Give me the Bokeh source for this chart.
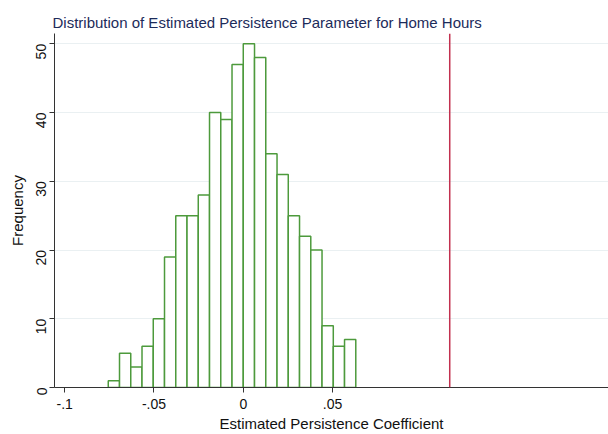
import math
from bokeh.plotting import figure
from bokeh.models import FixedTicker, Span, Range1d
from bokeh.embed import file_html
from bokeh.resources import INLINE

# Data
bin_start = -0.0756
bin_width = 0.0063
counts = [1, 5, 3, 6, 10, 19, 25, 25, 28, 40, 39, 47, 50, 48, 34, 31, 25, 22, 20, 9, 6, 7]
true_value = 0.1156
x_ticks = [-0.1, -0.05, 0.0, 0.05]
x_tick_labels = ["-.1", "-.05", "0", ".05"]
y_ticks = [0, 10, 20, 30, 40, 50]

lefts = [bin_start + i * bin_width for i in range(len(counts))]
rights = [l + bin_width for l in lefts]

FONT = "Liberation Sans"

p = figure(width=608, height=434, output_backend="svg", toolbar_location=None,
           x_range=Range1d(-0.1057, 0.2045), y_range=Range1d(0, 51.5),
           min_border_left=54, min_border_right=0, min_border_top=33, min_border_bottom=43)

p.quad(left=lefts, right=rights, bottom=0, top=counts,
       fill_color="white", line_color="#4d9a3c", line_width=1.5)

p.add_layout(Span(location=true_value, dimension="height",
                  line_color="#c2304f", line_width=1.5))

p.title.text = "Distribution of Estimated Persistence Parameter for Home Hours"
p.title.text_font = FONT
p.title.text_font_size = "15px"
p.title.text_font_style = "normal"
p.title.text_color = "#1c2b5a"
p.title.align = "left"
p.title.offset = -2
p.title.standoff = 6

p.outline_line_color = None
p.xgrid.grid_line_color = None
p.ygrid.grid_line_color = "#eaf0f2"
p.ygrid.grid_line_width = 1

p.xaxis.ticker = FixedTicker(ticks=x_ticks)
p.xaxis.major_label_overrides = {v: s for v, s in zip(x_ticks, x_tick_labels)}
p.yaxis.ticker = FixedTicker(ticks=y_ticks)
p.yaxis.major_label_orientation = math.pi / 2

for ax in (p.xaxis[0], p.yaxis[0]):
    ax.axis_line_color = "#333333"
    ax.axis_line_width = 1
    ax.major_tick_line_color = "#333333"
    ax.major_tick_out = 5
    ax.major_tick_in = 0
    ax.minor_tick_line_color = None
    ax.major_label_text_font = FONT
    ax.major_label_text_font_size = "14px"
    ax.major_label_text_color = "#111111"
    ax.axis_label_text_font = FONT
    ax.axis_label_text_font_size = "15px"
    ax.axis_label_text_font_style = "normal"
    ax.axis_label_text_color = "#111111"
    ax.axis_label_standoff = 3

p.xaxis.major_label_standoff = 6
p.yaxis.major_label_standoff = 8

p.xaxis.axis_label = "Estimated Persistence Coefficient"
p.yaxis.axis_label = "Frequency"

open("out.html", "w").write(file_html(p, INLINE))
